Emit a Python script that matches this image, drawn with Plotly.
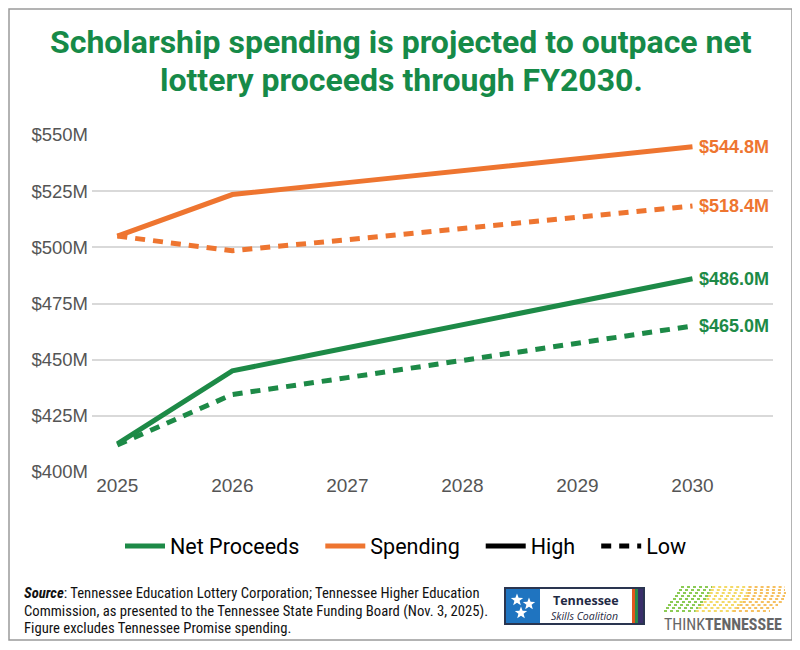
import math
import plotly.graph_objects as go

# fiscal years and projections ($M)
years = [2025, 2026, 2027, 2028, 2029, 2030]
spending_high = [505.0, 523.5, 528.8, 534.1, 539.5, 544.8]
spending_low = [505.0, 498.5, 503.4, 508.4, 513.4, 518.4]
proceeds_high = [412.5, 445.0, 455.3, 465.5, 475.8, 486.0]
proceeds_low = [412.0, 434.5, 442.0, 449.5, 457.2, 465.0]
y_ticks = [400, 425, 450, 475, 500, 525, 550]
y_tick_labels = ["$400M", "$425M", "$450M", "$475M", "$500M", "$525M", "$550M"]

GREEN = "#1d8a47"
ORANGE = "#ee7530"
COND = "Roboto Condensed, Liberation Sans Narrow, DejaVu Sans Condensed, Roboto, sans-serif"
SANS = "Liberation Sans, Arial, Helvetica, sans-serif"
NB = "\u00a0"

# page has an 8px body margin, so target picture pixels are shifted by OFF
OFF = 8
L, R, T, B = 92, 773, 135, 472   # plot area in picture pixels
def px(x):
    return (x - L) / (R - L)
def py(y):
    return (B - y) / (B - T)

def star_path(cx, cy, r):
    # five-pointed star, picture pixels -> paper coords
    pts = []
    for k in range(10):
        rr = r if k % 2 == 0 else r * 0.42
        a = -math.pi / 2 + k * math.pi / 5
        pts.append((px(cx + rr * math.cos(a)), py(cy + rr * math.sin(a))))
    return "M " + " L ".join("%.5f,%.5f" % p for p in pts) + " Z"

fig = go.Figure()

series = [
    (spending_high, ORANGE, "solid"),
    (spending_low, ORANGE, "10px,8px"),
    (proceeds_high, GREEN, "solid"),
    (proceeds_low, GREEN, "10px,8px"),
]
for vals, col, dash in series:
    fig.add_trace(go.Scatter(x=years, y=vals, mode="lines", showlegend=False,
                             line=dict(color=col, width=5, dash=dash), hoverinfo="x+y"))

# legend-only entries (trailing spaces widen the gaps like the reference)
for name, col, dash in [("Net Proceeds" + NB * 3, GREEN, "solid"), ("Spending" + NB * 3, ORANGE, "solid"),
                        ("High" + NB * 3, "black", "solid"), ("Low", "black", "10px,8px")]:
    fig.add_trace(go.Scatter(x=[None], y=[None], mode="lines", name=name,
                             line=dict(color=col, width=5, dash=dash)))

# end labels
for vals, col in [(spending_high, ORANGE), (spending_low, ORANGE),
                  (proceeds_high, GREEN), (proceeds_low, GREEN)]:
    fig.add_annotation(x=years[-1], y=vals[-1], text="<b>$%.1fM</b>" % vals[-1],
                       showarrow=False, xanchor="left", xshift=5,
                       font=dict(family=SANS, size=18, color=col))

# title, one annotation per line
for line, yy in [("Scholarship spending is projected to outpace net", 42),
                 ("lottery proceeds through FY2030.", 80)]:
    fig.add_annotation(xref="paper", yref="paper", x=px(401), y=py(yy), text="<b>%s</b>" % line,
                       showarrow=False, xanchor="center", yanchor="middle",
                       font=dict(family="Roboto", size=32, color="#168a48"))

# source note
notes = ["<b><i>Source</i></b>: Tennessee Education Lottery Corporation; Tennessee Higher Education",
         "Commission, as presented to the Tennessee State Funding Board (Nov. 3, 2025).",
         "Figure excludes Tennessee Promise spending."]
for i, line in enumerate(notes):
    fig.add_annotation(xref="paper", yref="paper", x=px(22), y=py(593 + 17.5 * i),
                       text=line, showarrow=False, xanchor="left", yanchor="middle", align="left",
                       font=dict(family=COND, size=14.7, color="#111"))

shapes = []
# outer border
shapes.append(dict(type="rect", xref="paper", yref="paper", x0=px(9), x1=px(792), y0=py(640), y1=py(9),
                   line=dict(color="#9a9a9a", width=1.5)))

# Tennessee Skills Coalition logo
shapes.append(dict(type="rect", xref="paper", yref="paper", x0=px(505), x1=px(644), y0=py(624), y1=py(588),
                   line=dict(color="#2a3550", width=2)))
shapes.append(dict(type="rect", xref="paper", yref="paper", x0=px(506), x1=px(540), y0=py(623), y1=py(589),
                   line=dict(width=0), fillcolor="#1f74c0"))
for x0, x1, c in [(632, 635, "#e2571f"), (635, 638, "#2b8a4a"), (638, 643, "#3a2f6b")]:
    shapes.append(dict(type="rect", xref="paper", yref="paper", x0=px(x0), x1=px(x1), y0=py(623), y1=py(589),
                       line=dict(width=0), fillcolor=c))
for sx, sy in [(517, 600), (529, 604), (521, 613)]:
    shapes.append(dict(type="path", xref="paper", yref="paper", path=star_path(sx, sy, 6.5),
                       fillcolor="white", line=dict(width=0)))
fig.add_annotation(xref="paper", yref="paper", x=px(586), y=py(600.5), text="<b>Tennessee</b>", showarrow=False,
                   xanchor="center", yanchor="middle", borderpad=0,
                   font=dict(family="Open Sans", size=12.5, color="#1f2a44"))
fig.add_annotation(xref="paper", yref="paper", x=px(584), y=py(616), text="<i>Skills Coalition</i>",
                   showarrow=False, xanchor="center", yanchor="middle", borderpad=0,
                   font=dict(family="Open Sans", size=10.5, color="#1f2a44"))

# ThinkTennessee logo: dotted rows
rows = [(587, 681, 785), (590, 679, 785), (593, 677, 786), (596, 675, 785), (599, 673, 784),
        (602, 670, 782), (605, 668, 778), (608, 666, 774), (611, 664, 770)]
for y, xa, xb in rows:
    span = xb - xa
    for f0, f1, c in [(0.0, 0.3, "#8ccb55"), (0.3, 0.65, "#f4da68"), (0.65, 1.0, "#f6c060")]:
        shapes.append(dict(type="line", xref="paper", yref="paper",
                           x0=px(xa + span * f0), x1=px(xa + span * f1), y0=py(y), y1=py(y),
                           line=dict(color=c, width=2, dash="dot")))
fig.add_annotation(xref="paper", yref="paper", x=px(663), y=py(624), xanchor="left", yanchor="middle",
                   text="THINK<b>TENNESSEE</b>", showarrow=False, borderpad=0,
                   font=dict(family=COND, size=16, color="#666"))

fig.update_layout(
    width=800, height=650,
    margin=dict(l=L - OFF, r=800 - (R - OFF), t=T - OFF, b=650 - (B - OFF)),
    paper_bgcolor="white", plot_bgcolor="white",
    shapes=shapes,
    xaxis=dict(range=[2024.78, 2030.7], tickvals=years, showgrid=False, zeroline=False, showline=False,
               tickfont=dict(family=SANS, size=19, color="#555"), ticks=""),
    yaxis=dict(range=[400, 550], tickvals=y_ticks, ticktext=y_tick_labels, showgrid=True,
               gridcolor="#d9d9d9", gridwidth=1.5, zeroline=False, showline=False,
               tickfont=dict(family=SANS, size=18.5, color="#555"), ticks="", ticklabelstandoff=3),
    legend=dict(orientation="h", x=px(406), xanchor="center", y=py(546), yanchor="middle",
                font=dict(family="Roboto", size=21.5, color="black"), itemwidth=40,
                bgcolor="rgba(0,0,0,0)"),
    showlegend=True,
)

fig.write_html("out.html")
